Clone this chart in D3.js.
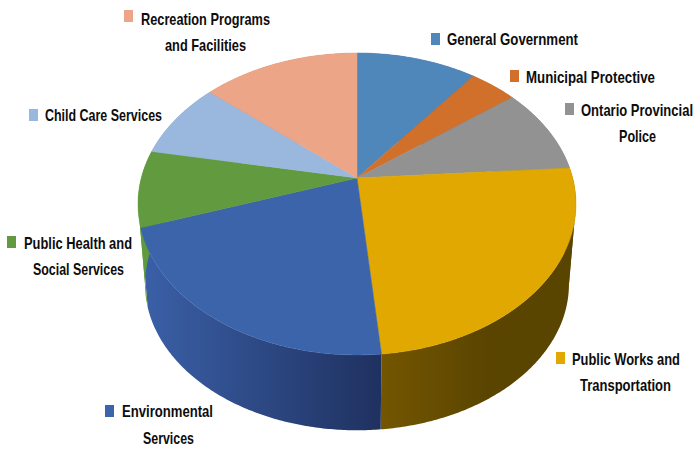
<!DOCTYPE html>
<html>
<head>
<meta charset="utf-8">
<script src="https://cdn.jsdelivr.net/npm/d3@7"></script>
<style>
html,body{margin:0;padding:0;background:#fff;overflow:hidden}
svg{display:block}
text{font-family:"Liberation Sans Narrow","Liberation Sans",sans-serif;font-weight:700;fill:#0d0d0d;font-size:16.5px}
</style>
</head>
<body>
<svg id="c" width="694" height="450"></svg>
<script>
const categories = ["General Government","Municipal Protective","Ontario Provincial Police","Public Works and Transportation","Environmental Services","Public Health and Social Services","Child Care Services","Recreation Programs and Facilities"];
const shares = [10.5,4.1,9.3,24.6,21.3,8.2,8.3,13.7];
const topColors = ["#4f87bb","#d1702a","#929292","#e0a800","#3c64ab","#629b3f","#9ab8de","#eca587"];
const wallLeft = ["#3c6a96","#a05520","#707070","#745600","#3a5fa6","#5f9a3c","#7a93b3","#b98268"];
const wallRight = ["#3c6a96","#a05520","#707070","#594400","#1f3160","#5f9a3c","#7a93b3","#b98268"];

// label lines with their placement: line text, centre x, baseline y, drawn width
const labelLines = [
  [["General Government",512.5,45,131]],
  [["Municipal Protective",590.5,83,129]],
  [["Ontario Provincial",637,116,112],["Police",637.5,142,37]],
  [["Public Works and",626,365,108],["Transportation",625.5,391,91]],
  [["Environmental",167.5,417,91],["Services",168.5,444,51]],
  [["Public Health and",78,249,108],["Social Services",78.5,275,91]],
  [["Child Care Services",103.5,121,117]],
  [["Recreation Programs",205.5,25,129],["and Facilities",205.5,51,81]]
];
const markerAt = [[431,33],[510,70],[565,103],[556,352],[105,405],[7,236],[29,109],[124,10]];

const svg = d3.select("#c");
const defs = svg.append("defs");

// perspective projection of the unit disc
const apex = {x:357, y:178};
const R = 215.7, A = 146.5, P = 0.172;
const floorScale = 0.968, floorDrop = 81;
const project = (angle, lower) => {
  const u = Math.sin(angle), v = -Math.cos(angle), w = 1 - P * v;
  const k = lower ? floorScale : 1;
  return [apex.x + k * R * u / w, apex.y + (lower ? floorDrop : 0) + k * A * v / w];
};
const pie = d3.pie().sort(null).value(d => d);
const slices = pie(shares);
const line = d3.line();
const arcAngles = (a0, a1) => {
  const n = Math.max(2, Math.ceil((a1 - a0) / 0.01));
  return d3.range(n + 1).map(i => a0 + (a1 - a0) * i / n);
};

// silhouette angles of the disc, where a wall must be split to sweep correctly
const tangentRight = Math.acos(-P), tangentLeft = 2 * Math.PI - tangentRight;
const wallPieces = slices.flatMap(s => {
  const cuts = [s.startAngle, ...[tangentRight, tangentLeft].filter(t => t > s.startAngle && t < s.endAngle), s.endAngle];
  return d3.pairs(cuts).map(([a0, a1]) => ({index: s.index, a0, a1}));
});

// horizontal shading for the side walls
slices.forEach((s, i) => {
  const xs = arcAngles(s.startAngle, s.endAngle).map(a => project(a, true)[0]);
  const x0 = d3.min(xs);
  const g = defs.append("linearGradient").attr("id", "w" + i)
    .attr("gradientUnits", "userSpaceOnUse")
    .attr("x1", x0).attr("x2", i === 3 ? x0 + 110 : d3.max(xs))
    .attr("y1", 0).attr("y2", 0);
  g.append("stop").attr("offset", 0).attr("stop-color", wallLeft[i]);
  g.append("stop").attr("offset", 1).attr("stop-color", wallRight[i]);
});

// side walls
svg.append("g").selectAll("path").data(wallPieces).join("path")
  .attr("d", p => {
    const as = arcAngles(p.a0, p.a1);
    const pts = as.map(a => project(a, false)).concat(as.slice().reverse().map(a => project(a, true)));
    return line(pts) + "Z";
  })
  .attr("fill", p => `url(#w${p.index})`);

// top faces
svg.append("g").selectAll("path").data(slices).join("path")
  .attr("d", s => line([[apex.x, apex.y]].concat(arcAngles(s.startAngle, s.endAngle).map(a => project(a, false)))) + "Z")
  .attr("fill", (s, i) => topColors[i])
  .attr("stroke", (s, i) => topColors[i])
  .attr("stroke-width", 0.5);

// labels
const legend = svg.append("g").selectAll("g").data(categories).join("g");
legend.append("rect")
  .attr("x", (d, i) => markerAt[i][0]).attr("y", (d, i) => markerAt[i][1])
  .attr("width", 9).attr("height", 12)
  .attr("fill", (d, i) => topColors[i]);
legend.each(function(d, i) {
  d3.select(this).selectAll("text").data(labelLines[i]).join("text")
    .attr("x", l => l[1]).attr("y", l => l[2])
    .attr("text-anchor", "middle")
    .attr("textLength", l => l[3])
    .attr("lengthAdjust", "spacingAndGlyphs")
    .text(l => l[0]);
});
</script>
</body>
</html>
